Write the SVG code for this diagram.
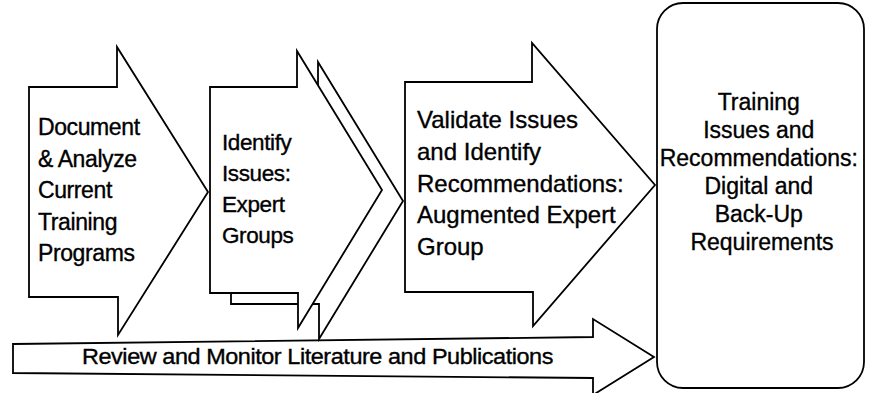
<svg xmlns="http://www.w3.org/2000/svg" width="869" height="393" viewBox="0 0 869 393">
<style>
.s{fill:#fff;stroke:#000;stroke-width:1.8;stroke-linejoin:miter}
.t{font-family:"Liberation Sans",Arial,sans-serif;fill:#000;stroke:#000;stroke-width:0.35;letter-spacing:-0.4px}
.w{letter-spacing:0}
</style>
<rect width="869" height="393" fill="#fff"/>
<g id="connectors">
<g id="review">
<polygon class="s" points="13,344 593,337 593,319 654,357 593,395 593,378 13,373"/>
<text class="t" x="82" y="364" font-size="21.5" textLength="471" lengthAdjust="spacingAndGlyphs">Review and Monitor Literature and Publications</text>
</g>
</g>
<g id="step1">
<polygon class="s" points="29,87 117,87 117,47 208,192 118,335 118,297 29,297"/>
<text class="t" font-size="23">
<tspan x="38" y="135">Document</tspan>
<tspan x="38" y="166.5">&amp; Analyze</tspan>
<tspan x="38" y="198">Current</tspan>
<tspan x="38" y="229.5">Training</tspan>
<tspan x="38" y="261">Programs</tspan>
</text>
</g>
<g id="step2">
<polygon class="s" points="231,98 318,98 318,62 403,201 319,339 319,304 231,304"/>
<polygon class="s" points="210,87 297,87 297,51 382,190 298,328 298,293 210,293"/>
<text class="t" font-size="22.5">
<tspan x="222" y="150">Identify</tspan>
<tspan x="222" y="181">Issues:</tspan>
<tspan x="222" y="212">Expert</tspan>
<tspan x="222" y="243">Groups</tspan>
</text>
</g>
<g id="step3">
<polygon class="s" points="405,82 532,82 532,43 655,185 533,326 533,292 405,292"/>
<text class="t w" font-size="24">
<tspan x="417" y="128">Validate Issues</tspan>
<tspan x="417" y="160">and Identify</tspan>
<tspan x="417" y="192">Recommendations:</tspan>
<tspan x="417" y="223">Augmented Expert</tspan>
<tspan x="417" y="255">Group</tspan>
</text>
</g>
<g id="result">
<rect class="s" x="657" y="3" width="207" height="385" rx="26" ry="26"/>
<text class="t w" font-size="23" text-anchor="middle">
<tspan x="762" y="110">Training</tspan>
<tspan x="762" y="138">Issues and</tspan>
<tspan x="762" y="166">Recommendations:</tspan>
<tspan x="762" y="194">Digital and</tspan>
<tspan x="762" y="222">Back-Up</tspan>
<tspan x="762" y="250">Requirements</tspan>
</text>
</g>
</svg>
